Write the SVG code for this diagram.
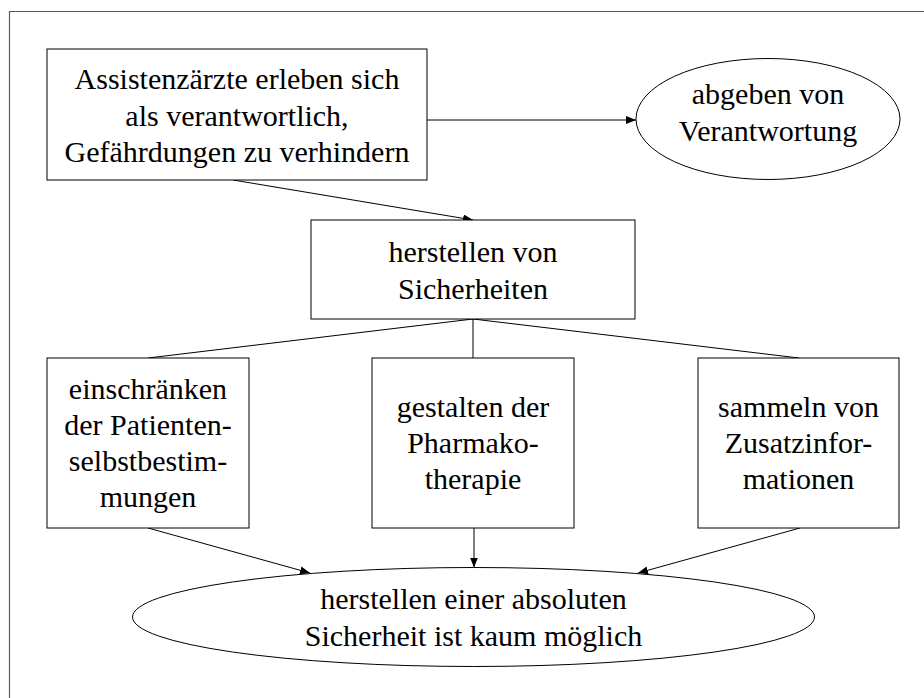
<svg xmlns="http://www.w3.org/2000/svg" width="924" height="698" viewBox="0 0 924 698">
  <style>
    .frame { fill: none; stroke: #5a5a5a; stroke-width: 1.2; }
    .node { fill: #ffffff; stroke: #000000; stroke-width: 1; }
    .edge { fill: none; stroke: #000000; stroke-width: 1; }
    .arrow { marker-end: url(#head); }
  </style>
  <defs>
    <marker id="head" viewBox="0 0 10 8" refX="10" refY="4" markerWidth="10" markerHeight="8" markerUnits="userSpaceOnUse" orient="auto">
      <path d="M0,0 L10,4 L0,8 Z" fill="#000000"/>
    </marker>
  </defs>

  <rect x="0" y="0" width="924" height="698" fill="#ffffff"/>
  <!-- page frame, open to the right and bottom -->
  <path class="frame" d="M940,11.5 L9.5,11.5 L9.5,710"/>

  <g id="connectors">
    <line class="edge arrow" x1="427" y1="120" x2="636" y2="120"/>
    <line class="edge arrow" x1="233" y1="180" x2="473" y2="220"/>
    <line class="edge" x1="473" y1="319" x2="148" y2="358"/>
    <line class="edge" x1="473" y1="319" x2="473" y2="358"/>
    <line class="edge" x1="473" y1="319" x2="799" y2="358"/>
    <line class="edge arrow" x1="148" y1="528" x2="310" y2="573"/>
    <line class="edge arrow" x1="474" y1="528" x2="474" y2="567.5"/>
    <line class="edge arrow" x1="800" y1="528" x2="638" y2="573"/>
  </g>

  <g font-family="'Liberation Serif', 'Times New Roman', Times, serif" font-size="30" fill="#000000" text-anchor="middle">
    <g id="assistenzaerzte">
      <rect class="node" x="47" y="49" width="380" height="131"/>
      <text x="237" y="89">Assistenzärzte erleben sich</text>
      <text x="237" y="126">als verantwortlich,</text>
      <text x="237" y="162">Gefährdungen zu verhindern</text>
    </g>

    <g id="abgeben">
      <ellipse class="node" cx="768" cy="119" rx="132" ry="60.5"/>
      <text x="768" y="104">abgeben von</text>
      <text x="768" y="141">Verantwortung</text>
    </g>

    <g id="sicherheiten">
      <rect class="node" x="311" y="220" width="324" height="99"/>
      <text x="473" y="262">herstellen von</text>
      <text x="473" y="299">Sicherheiten</text>
    </g>

    <g id="einschraenken">
      <rect class="node" x="47" y="358" width="202" height="170"/>
      <text x="148" y="399">einschränken</text>
      <text x="148" y="435">der Patienten-</text>
      <text x="148" y="471">selbstbestim-</text>
      <text x="148" y="507">mungen</text>
    </g>

    <g id="pharmakotherapie">
      <rect class="node" x="372" y="358" width="202" height="170"/>
      <text x="473" y="417">gestalten der</text>
      <text x="473" y="453">Pharmako-</text>
      <text x="473" y="489">therapie</text>
    </g>

    <g id="zusatzinformationen">
      <rect class="node" x="698" y="358" width="201" height="170"/>
      <text x="798.5" y="417">sammeln von</text>
      <text x="798.5" y="453">Zusatzinfor-</text>
      <text x="798.5" y="489">mationen</text>
    </g>

    <g id="absolute-sicherheit">
      <ellipse class="node" cx="473.5" cy="617" rx="341" ry="49.5"/>
      <text x="473.5" y="609">herstellen einer absoluten</text>
      <text x="473.5" y="646">Sicherheit ist kaum möglich</text>
    </g>
  </g>
</svg>
